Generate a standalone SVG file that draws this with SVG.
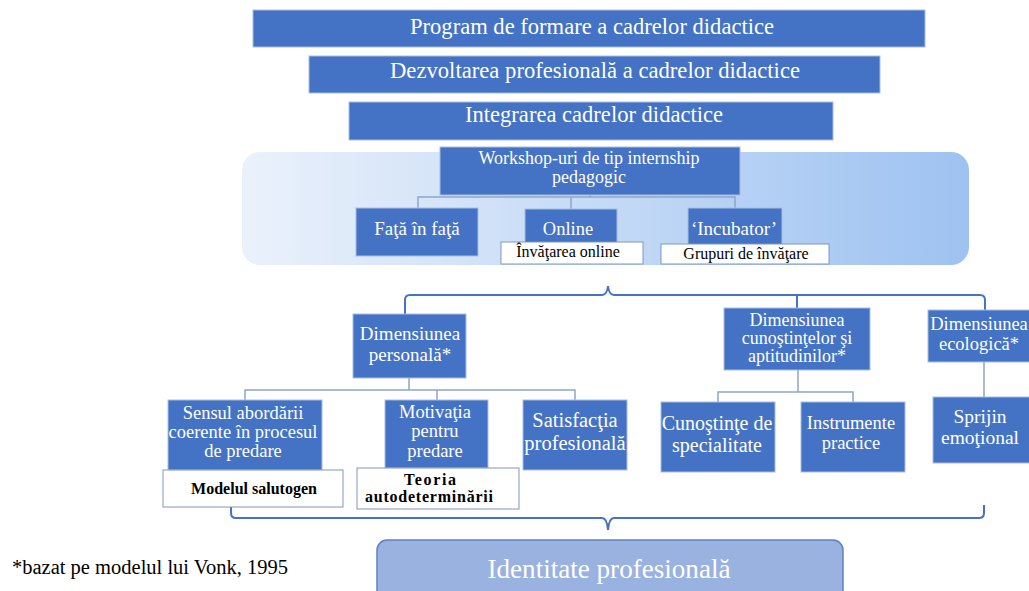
<svg xmlns="http://www.w3.org/2000/svg" width="1029" height="591" viewBox="0 0 1029 591">
<defs>
<linearGradient id="panelGrad" x1="0" y1="0" x2="1" y2="0">
<stop offset="0" stop-color="#eaf1fb"/>
<stop offset="1" stop-color="#9ec2f1"/>
</linearGradient>
<style>
.box{fill:#4472c4;stroke:#a8bde0;stroke-width:1}
.wbox{fill:#ffffff;stroke:#7f98c0;stroke-width:1}
.t{font-family:"Liberation Serif","Times New Roman",serif;fill:#ffffff;text-anchor:middle}
.k{font-family:"Liberation Serif","Times New Roman",serif;fill:#000000;text-anchor:middle}
.b{font-weight:bold}
.conn{fill:none;stroke:#8ea6c6;stroke-width:1.5}
.brace{fill:none;stroke:#4472c4;stroke-width:2}
</style>
</defs>
<rect width="1029" height="591" fill="#ffffff"/>

<g id="panel">
<rect x="242" y="152" width="727" height="113" rx="18" fill="url(#panelGrad)"/>
</g>

<g id="connectors">
<path class="conn" d="M590 195 V197 M418 208 V197 H735 V208 M571 197 V209"/>
<path class="conn" d="M409 378 V390 M245 400 V390 H575 V400 M437 390 V400"/>
<path class="conn" d="M798 370 V392 M718 402 V392 H853 V402"/>
<path class="conn" d="M984 362 V397"/>
<path class="brace" d="M405 314 V300 Q405 295 410 295 H602 Q607 295 608 286 Q609 295 614 295 H980 Q985 295 985 300 V310"/>
<path class="brace" d="M797 295 V308"/>
<path class="brace" d="M231 505 V513 Q231 518 236 518 H602 Q607 518 608 530 Q609 518 614 518 H979 Q984 518 984 513 V505"/>
</g>

<g id="n-program">
<rect class="box" x="253" y="10" width="672" height="37"/>
<text class="t" x="592" y="34" font-size="24" textLength="364" lengthAdjust="spacingAndGlyphs">Program de formare a cadrelor didactice</text>
</g>
<g id="n-dezvoltarea">
<rect class="box" x="309" y="56" width="571" height="37"/>
<text class="t" x="595" y="78" font-size="23" textLength="410" lengthAdjust="spacingAndGlyphs">Dezvoltarea profesională a cadrelor didactice</text>
</g>
<g id="n-integrarea">
<rect class="box" x="349" y="102" width="484" height="38"/>
<text class="t" x="594" y="122" font-size="23" textLength="258" lengthAdjust="spacingAndGlyphs">Integrarea cadrelor didactice</text>
</g>

<g id="n-workshop">
<rect class="box" x="440" y="147" width="300" height="48"/>
<text class="t" x="589" y="164" font-size="18" textLength="221" lengthAdjust="spacingAndGlyphs">Workshop-uri de tip internship</text>
<text class="t" x="589" y="183" font-size="18">pedagogic</text>
</g>
<g id="n-fata">
<rect class="box" x="356" y="208" width="122" height="48"/>
<text class="t" x="417" y="235" font-size="19">Faţă în faţă</text>
</g>
<g id="n-online">
<rect class="box" x="525" y="209" width="92" height="43"/>
<text class="t" x="568" y="235" font-size="18.5">Online</text>
</g>
<g id="n-invatarea-online">
<rect class="wbox" x="501" y="242" width="142" height="22"/>
<text class="k" x="568" y="257" font-size="16">Învăţarea online</text>
</g>
<g id="n-incubator">
<rect class="box" x="688" y="208" width="94" height="44"/>
<text class="t" x="734" y="235" font-size="19">‘Incubator’</text>
</g>
<g id="n-grupuri">
<rect class="wbox" x="661" y="244" width="168" height="20"/>
<text class="k" x="746" y="259" font-size="16">Grupuri de învăţare</text>
</g>

<g id="n-dim-personala">
<rect class="box" x="353" y="314" width="113" height="64"/>
<text class="t" x="410" y="340" font-size="19">Dimensiunea</text>
<text class="t" x="410" y="361" font-size="19">personală*</text>
</g>
<g id="n-dim-cunostinte">
<rect class="box" x="724" y="308" width="146" height="62"/>
<text class="t" x="797" y="326" font-size="18">Dimensiunea</text>
<text class="t" x="797" y="344" font-size="18">cunoştinţelor şi</text>
<text class="t" x="797" y="362" font-size="18">aptitudinilor*</text>
</g>
<g id="n-dim-ecologica">
<rect class="box" x="928" y="310" width="105" height="52"/>
<text class="t" x="979" y="330" font-size="18.5">Dimensiunea</text>
<text class="t" x="979" y="350" font-size="18.5">ecologică*</text>
</g>

<g id="n-sensul">
<rect class="box" x="168" y="400" width="154" height="70"/>
<text class="t" x="243" y="419" font-size="18.5">Sensul abordării</text>
<text class="t" x="243" y="438" font-size="18.5">coerente în procesul</text>
<text class="t" x="243" y="457" font-size="18.5">de predare</text>
</g>
<g id="n-modelul">
<rect class="wbox" x="163" y="470" width="180" height="37"/>
<text class="k b" x="254" y="494" font-size="16">Modelul salutogen</text>
</g>
<g id="n-motivatia">
<rect class="box" x="385" y="400" width="103" height="68"/>
<text class="t" x="435" y="418" font-size="18.5">Motivaţia</text>
<text class="t" x="435" y="437" font-size="18.5">pentru</text>
<text class="t" x="435" y="457" font-size="18.5">predare</text>
</g>
<g id="n-teoria">
<rect class="wbox" x="357" y="468" width="162" height="41"/>
<text class="k b" x="430" y="485" font-size="16" textLength="52" lengthAdjust="spacing">Teoria</text>
<text class="k b" x="429" y="502" font-size="16" textLength="128" lengthAdjust="spacing">autodeterminării</text>
</g>
<g id="n-satisfactia">
<rect class="box" x="523" y="400" width="104" height="70"/>
<text class="t" x="575" y="427" font-size="20.5">Satisfacţia</text>
<text class="t" x="575" y="450" font-size="20.5">profesională</text>
</g>
<g id="n-cunostinte">
<rect class="box" x="661" y="402" width="114" height="70"/>
<text class="t" x="717" y="430" font-size="20">Cunoştinţe de</text>
<text class="t" x="717" y="452" font-size="20">specialitate</text>
</g>
<g id="n-instrumente">
<rect class="box" x="801" y="402" width="104" height="70"/>
<text class="t" x="851" y="429" font-size="18.5">Instrumente</text>
<text class="t" x="851" y="449" font-size="18.5">practice</text>
</g>
<g id="n-sprijin">
<rect class="box" x="933" y="397" width="100" height="66"/>
<text class="t" x="980" y="423" font-size="19.5">Sprijin</text>
<text class="t" x="980" y="444" font-size="19.5">emoţional</text>
</g>

<g id="n-identitate">
<rect x="377" y="540" width="466" height="60" rx="10" fill="#9ab2df" stroke="#5f82c2" stroke-width="1.5"/>
<text class="t" x="609" y="578" font-size="27" textLength="243" lengthAdjust="spacingAndGlyphs">Identitate profesională</text>
</g>

<g id="footnote">
<text x="12" y="574" font-family="Liberation Serif, Times New Roman, serif" font-size="20.5" fill="#000000">*bazat pe modelul lui Vonk, 1995</text>
</g>
</svg>
